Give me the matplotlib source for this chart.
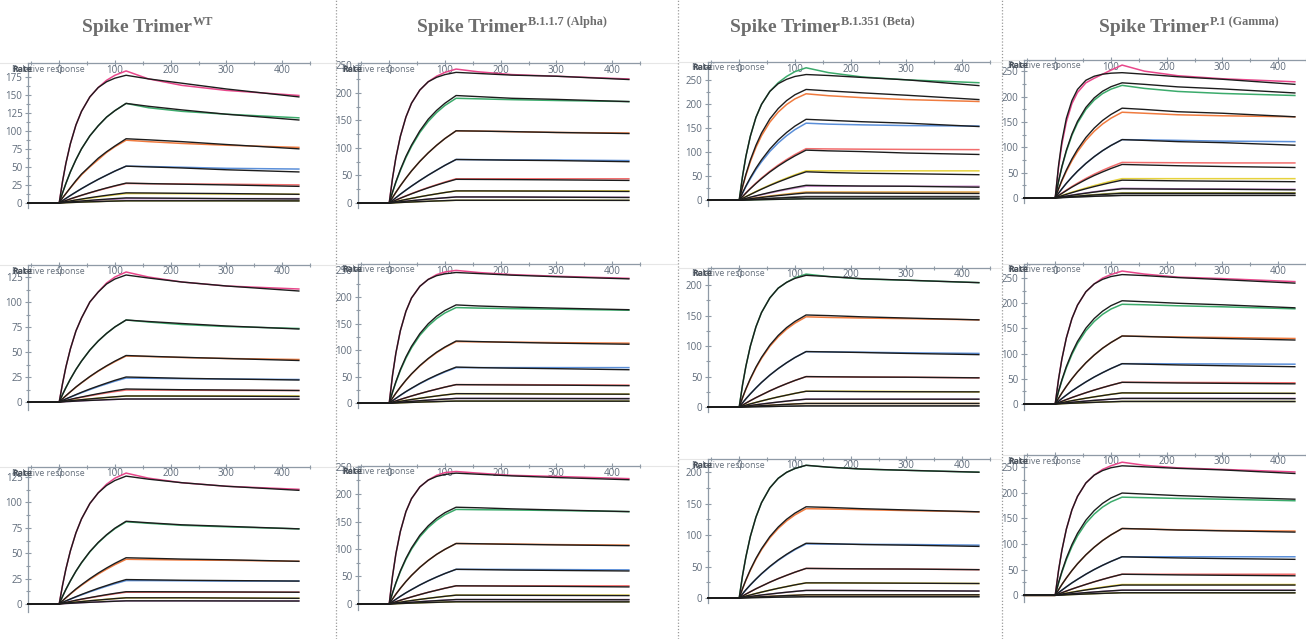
import matplotlib
matplotlib.use("Agg")
import matplotlib.pyplot as plt
from matplotlib.lines import Line2D
from matplotlib.ticker import MultipleLocator

# sample times (s) of every sensorgram: baseline, association (0-120), dissociation
t_pts = [-56, 0, 6, 12, 20, 30, 40, 55, 70, 85, 100, 120, 160, 220, 300, 430]

variants = ["WT", "B.1.1.7 (Alpha)", "B.1.351 (Beta)", "P.1 (Gamma)"]

# ---- WT ----
wt_r1_meas = [
    [0, 0, 30, 55, 82, 108, 127, 147, 160, 170, 177, 183, 172, 163, 156, 149],
    [0, 0, 14, 27, 43, 60, 75, 93, 107, 119, 128, 138, 132, 127, 123, 118],
    [0, 0, 7, 13, 21, 30, 39, 50, 60, 70, 78, 87, 85, 82.5, 80, 77],
    [0, 0, 3.2, 6.3, 10.3, 15.1, 19.8, 26.4, 32.7, 38.5, 44.2, 51, 50.5, 49.5, 48, 47],
    [0, 0, 1.7, 3.3, 5.5, 8, 10.5, 14, 17.3, 20.4, 23.4, 27, 26.7, 26.3, 26, 25],
    [0, 0, 0.8, 1.6, 2.6, 3.9, 5, 6.7, 8.3, 9.8, 11.3, 13, 13, 12.8, 12.5, 12],
    [0, 0, 0.4, 0.7, 1.2, 1.8, 2.3, 3.1, 3.8, 4.5, 5.2, 6, 6, 6, 6, 6],
    [0, 0, 0.2, 0.4, 0.6, 0.9, 1.2, 1.6, 1.9, 2.3, 2.6, 3, 3, 3, 3, 3],
]
wt_r1_fit = [
    [0, 0, 30, 55, 82, 108, 127, 147, 160, 168, 173, 177, 172, 166, 158, 147],
    [0, 0, 14, 27, 43, 60, 75, 93, 107, 119, 128, 138, 134, 129, 123, 115],
    [0, 0, 7, 13, 21, 31, 40, 51, 62, 71, 79, 89, 87.5, 85, 81, 75],
    [0, 0, 3.2, 6.3, 10.3, 15.1, 19.8, 26.4, 32.7, 38.5, 44.2, 51, 50, 48.5, 46, 43],
    [0, 0, 1.7, 3.4, 5.6, 8.2, 10.7, 14.2, 17.6, 20.8, 23.8, 27.5, 26.8, 26, 25, 23],
    [0, 0, 0.9, 1.7, 2.8, 4.2, 5.4, 7.3, 9, 10.6, 12.1, 14, 13.8, 13.4, 13, 12],
    [0, 0, 0.4, 0.9, 1.4, 2.1, 2.7, 3.6, 4.5, 5.3, 6.1, 7, 6.8, 6.5, 6, 5.5],
    [0, 0, 0.2, 0.4, 0.6, 0.9, 1.2, 1.6, 1.9, 2.3, 2.6, 3, 3, 3, 3, 2.8],
]
wt_r2_meas = [
    [0, 0, 18.5, 35, 53, 71, 84, 100, 110, 119, 125, 130, 125, 120, 116, 113],
    [0, 0, 7.5, 14.4, 22.9, 32.5, 40.9, 51.9, 61, 68.6, 75.1, 82, 80, 77.5, 75.5, 73.5],
    [0, 0, 3.2, 6.2, 10.1, 14.8, 19.1, 25.2, 30.8, 35.8, 40.4, 46, 45.5, 44.5, 43.5, 42.5],
    [0, 0, 1.5, 3, 4.8, 7.1, 9.3, 12.4, 15.4, 18.1, 20.8, 24, 23.7, 23.3, 23, 22.5],
    [0, 0, 0.7, 1.5, 2.4, 3.6, 4.7, 6.2, 7.7, 9.1, 10.4, 12, 12, 11.8, 11.6, 11.5],
    [0, 0, 0.4, 0.7, 1.2, 1.8, 2.3, 3.1, 3.8, 4.5, 5.2, 6, 6, 6, 6, 6],
    [0, 0, 0.2, 0.4, 0.6, 0.9, 1.2, 1.6, 1.9, 2.3, 2.6, 3, 3, 3, 3, 3],
]
wt_r2_fit = [
    [0, 0, 18.5, 35, 53, 71, 84, 100, 110, 118, 123, 127, 124, 120, 116, 111],
    [0, 0, 7.5, 14.4, 22.9, 32.5, 40.9, 51.9, 61, 68.6, 75.1, 82, 80.5, 78.5, 76, 73],
    [0, 0, 3.2, 6.3, 10.2, 15, 19.3, 25.5, 31.1, 36.2, 40.9, 46.5, 45.7, 44.7, 43.5, 41.5],
    [0, 0, 1.6, 3.1, 5, 7.4, 9.7, 13, 16, 18.9, 21.7, 25, 24.5, 23.7, 23, 22],
    [0, 0, 0.8, 1.6, 2.6, 3.9, 5, 6.7, 8.3, 9.8, 11.3, 13, 12.7, 12.3, 12, 11.5],
    [0, 0, 0.4, 0.7, 1.2, 1.8, 2.3, 3.1, 3.8, 4.5, 5.2, 6, 6, 5.9, 5.8, 5.5],
    [0, 0, 0.2, 0.4, 0.6, 0.9, 1.2, 1.6, 1.9, 2.3, 2.6, 3, 3, 3, 2.9, 2.8],
]
wt_r3_meas = [
    [0, 0, 18.4, 34.4, 52.2, 70, 83.8, 99, 109.5, 118, 124, 129, 124, 119.5, 116, 113],
    [0, 0, 7.4, 14.3, 22.6, 32.1, 40.4, 51.3, 60.3, 67.8, 74.2, 81, 79.5, 77.5, 76, 74],
    [0, 0, 3, 5.9, 9.7, 14.2, 18.3, 24.1, 29.4, 34.2, 38.7, 44, 43.7, 43.3, 43, 42],
    [0, 0, 1.4, 2.8, 4.6, 6.8, 8.9, 11.9, 14.7, 17.4, 19.9, 23, 23, 22.8, 22.5, 22.5],
    [0, 0, 0.7, 1.4, 2.3, 3.4, 4.5, 6, 7.4, 8.7, 10, 11.5, 11.5, 11.5, 11.5, 11.5],
    [0, 0, 0.4, 0.7, 1.2, 1.8, 2.3, 3.1, 3.8, 4.5, 5.2, 6, 6, 6, 5.8, 5.5],
    [0, 0, 0.2, 0.4, 0.6, 0.9, 1.2, 1.6, 1.9, 2.3, 2.6, 3, 3, 3, 3, 3],
]
wt_r3_fit = [
    [0, 0, 18.4, 34.4, 52.2, 70, 83.8, 99, 109.5, 116.8, 121.7, 126, 123, 119.5, 116, 112],
    [0, 0, 7.4, 14.3, 22.7, 32.3, 40.7, 51.6, 60.6, 68.2, 74.7, 81.5, 80, 78, 76.5, 74],
    [0, 0, 3.1, 6.1, 10, 14.7, 18.9, 24.9, 30.4, 35.4, 40, 45.5, 45, 44.2, 43.5, 42],
    [0, 0, 1.5, 3, 4.8, 7.1, 9.3, 12.4, 15.4, 18.1, 20.8, 24, 23.7, 23.3, 23, 22.5],
    [0, 0, 0.7, 1.5, 2.4, 3.6, 4.7, 6.2, 7.7, 9.1, 10.4, 12, 12, 11.9, 11.8, 11.5],
    [0, 0, 0.4, 0.7, 1.2, 1.8, 2.3, 3.1, 3.8, 4.5, 5.2, 6, 6, 6, 5.8, 5.5],
    [0, 0, 0.2, 0.4, 0.6, 0.9, 1.2, 1.6, 1.9, 2.3, 2.6, 3, 3, 3, 2.9, 2.8],
]

# ---- Alpha ----
al_r1_meas = [
    [0, 0, 45.5, 82.5, 121, 156, 181, 205, 220, 230, 237, 243, 238, 233, 230, 225],
    [0, 0, 19.6, 37.6, 58.9, 82.5, 102.6, 128, 148, 164, 177, 190, 189, 187.5, 186, 184],
    [0, 0, 10, 19.5, 31.4, 45.2, 58.2, 75.6, 91, 104.7, 117, 131, 130.5, 129.5, 128, 127],
    [0, 0, 4.9, 9.7, 16, 23.5, 30.7, 40.9, 50.6, 59.6, 68.4, 79, 78.7, 78.3, 78, 77],
    [0, 0, 2.7, 5.4, 8.9, 13.1, 17.1, 22.8, 28.2, 33.2, 38.1, 44, 44, 44, 44, 44],
    [0, 0, 1.4, 2.7, 4.4, 6.5, 8.5, 11.4, 14.1, 16.6, 19.1, 22, 22, 22, 22, 22],
    [0, 0, 0.7, 1.4, 2.2, 3.3, 4.3, 5.7, 7.1, 8.3, 9.5, 11, 11, 11, 10.5, 10.5],
    [0, 0, 0.3, 0.6, 1, 1.5, 1.9, 2.6, 3.2, 3.8, 4.3, 5, 5, 5, 5, 5],
]
al_r1_fit = [
    [0, 0, 45.5, 82.5, 121, 156, 181, 205, 220, 228, 233, 237, 235, 232, 230, 224],
    [0, 0, 20, 38.6, 60.5, 84.6, 105, 131, 152, 168, 181, 195, 193, 190, 188, 184],
    [0, 0, 10, 19.5, 31.4, 45.2, 58.2, 75.6, 91, 104.7, 117, 131, 130.5, 129.5, 128, 126],
    [0, 0, 4.9, 9.7, 16, 23.5, 30.7, 40.9, 50.6, 59.6, 68.4, 79, 78.5, 77.7, 77, 75],
    [0, 0, 2.7, 5.3, 8.7, 12.8, 16.7, 22.3, 27.6, 32.5, 37.2, 43, 42.8, 42.5, 42, 41],
    [0, 0, 1.4, 2.7, 4.4, 6.5, 8.5, 11.4, 14.1, 16.6, 19.1, 22, 22, 21.8, 21.6, 21],
    [0, 0, 0.7, 1.4, 2.2, 3.3, 4.3, 5.7, 7.1, 8.3, 9.5, 11, 11, 10.9, 10.6, 10],
    [0, 0, 0.3, 0.6, 1, 1.5, 1.9, 2.6, 3.2, 3.8, 4.3, 5, 5, 5, 5, 4.8],
]
al_r2_meas = [
    [0, 0, 53, 94.5, 136.5, 173, 198, 220, 233, 242, 247, 250, 246, 242, 239, 235],
    [0, 0, 20.7, 39.4, 61.6, 84.8, 104.2, 127.8, 145.4, 159.3, 169.9, 180, 179, 178, 177, 175],
    [0, 0, 9.6, 18.8, 30, 43, 54.8, 70.2, 83.5, 95.1, 104.9, 116, 115.5, 115, 114, 113],
    [0, 0, 4.6, 9, 14.7, 21.6, 27.8, 36.7, 44.8, 52.1, 58.9, 67, 67, 67, 67, 67],
    [0, 0, 2.2, 4.3, 7.1, 10.4, 13.6, 18.1, 22.4, 26.4, 30.3, 35, 35, 35, 34.5, 34],
    [0, 0, 1.1, 2.2, 3.6, 5.3, 7, 9.3, 11.5, 13.6, 15.6, 18, 18, 18, 17.5, 17],
    [0, 0, 0.6, 1.1, 1.8, 2.7, 3.5, 4.7, 5.8, 6.8, 7.8, 9, 9, 9, 9, 9],
    [0, 0, 0.25, 0.5, 0.8, 1.2, 1.6, 2.1, 2.6, 3, 3.5, 4, 4, 4, 4, 4],
]
al_r2_fit = [
    [0, 0, 53, 94.5, 136.5, 173, 198, 220, 233, 240, 243.5, 246, 244, 241, 238, 234],
    [0, 0, 21.3, 40.5, 63.3, 87.1, 107, 131, 149.5, 163.7, 174.6, 185, 183, 181, 179, 176],
    [0, 0, 9.7, 19, 30.3, 43.4, 55.2, 70.8, 84.2, 96, 105.8, 117, 116, 114.5, 113, 111],
    [0, 0, 4.7, 9.2, 15, 21.9, 28.2, 37.3, 45.5, 52.9, 59.8, 68, 67, 66, 65, 63],
    [0, 0, 2.2, 4.3, 7.1, 10.4, 13.6, 18.1, 22.4, 26.4, 30.3, 35, 34.7, 34.3, 34, 33],
    [0, 0, 1.1, 2.2, 3.6, 5.3, 7, 9.3, 11.5, 13.6, 15.6, 18, 17.8, 17.5, 17.2, 17],
    [0, 0, 0.6, 1.1, 1.8, 2.7, 3.5, 4.7, 5.8, 6.8, 7.8, 9, 9, 8.9, 8.7, 8.4],
    [0, 0, 0.25, 0.5, 0.8, 1.2, 1.6, 2.1, 2.6, 3, 3.5, 4, 4, 4, 3.9, 3.8],
]
al_r3_meas = [
    [0, 0, 51, 91.4, 132, 168, 191.6, 213, 225.4, 234, 239, 241, 238, 234, 232, 228],
    [0, 0, 19.8, 37.7, 58.8, 81, 99.6, 122.1, 139, 152.2, 162.4, 172, 171.5, 171, 170, 168],
    [0, 0, 9.1, 17.8, 28.5, 40.8, 51.9, 66.6, 79.2, 90.2, 99.4, 110, 109.5, 109, 108, 107],
    [0, 0, 4.3, 8.5, 13.9, 20.3, 26.1, 34.5, 42.1, 49, 55.4, 63, 63, 62.8, 62.5, 62],
    [0, 0, 2, 4.1, 6.7, 9.8, 12.8, 17.1, 21.2, 24.9, 28.6, 33, 33, 33, 33, 33],
    [0, 0, 1, 2, 3.2, 4.8, 6.2, 8.3, 10.3, 12.1, 13.9, 16, 16, 16, 16, 16],
    [0, 0, 0.5, 1, 1.6, 2.4, 3.1, 4.1, 5.1, 6, 6.9, 8, 8, 8, 8, 8],
    [0, 0, 0.25, 0.5, 0.8, 1.2, 1.6, 2.1, 2.6, 3, 3.5, 4, 4, 4, 4, 4],
]
al_r3_fit = [
    [0, 0, 51, 91.4, 132, 168, 191.6, 213, 225.4, 232, 235.6, 238, 236, 233, 230, 226],
    [0, 0, 20.2, 38.5, 60.2, 82.9, 101.9, 125, 142.2, 155.8, 166.1, 176, 175, 173, 171, 168],
    [0, 0, 9.1, 17.8, 28.5, 40.8, 51.9, 66.6, 79.2, 90.2, 99.4, 110, 109.5, 108.5, 107.5, 106],
    [0, 0, 4.3, 8.5, 13.9, 20.3, 26.1, 34.5, 42.1, 49, 55.4, 63, 62.5, 61.7, 61, 60],
    [0, 0, 2, 4.1, 6.7, 9.8, 12.8, 17.1, 21.2, 24.9, 28.6, 33, 32.8, 32.4, 32, 31],
    [0, 0, 1, 2, 3.2, 4.8, 6.2, 8.3, 10.3, 12.1, 13.9, 16, 15.9, 15.7, 15.5, 15.2],
    [0, 0, 0.5, 1, 1.6, 2.4, 3.1, 4.1, 5.1, 6, 6.9, 8, 8, 7.9, 7.8, 7.6],
    [0, 0, 0.25, 0.5, 0.8, 1.2, 1.6, 2.1, 2.6, 3, 3.5, 4, 4, 4, 3.9, 3.8],
]

# ---- Beta ----
be_r1_meas = [
    [0, 0, 50, 91, 133, 172, 199, 226, 244, 257, 267, 275, 265, 256, 250, 244],
    [0, 0, 27.4, 51.7, 80.2, 109.6, 133.9, 162.2, 183, 198.7, 210.4, 221, 217, 213, 209, 205],
    [0, 0, 14.6, 28.2, 44.6, 63.4, 79.8, 101.3, 119, 133.9, 146.6, 160, 158, 156.5, 155, 154],
    [0, 0, 7.7, 15.2, 24.6, 35.6, 46, 60.2, 73, 84.4, 94.8, 107, 106.5, 106, 105.5, 105],
    [0, 0, 3.8, 7.5, 12.3, 18.1, 23.7, 31.6, 39.1, 46.1, 52.8, 61, 61, 61, 61, 61],
    [0, 0, 1.8, 3.6, 5.9, 8.6, 11.3, 15, 18.6, 21.9, 25.1, 29, 29, 29, 29, 29],
    [0, 0, 1.1, 2.1, 3.4, 5, 6.6, 8.8, 10.9, 12.8, 14.7, 17, 17, 17, 17, 17],
    [0, 0, 0.5, 1, 1.6, 2.4, 3.1, 4.1, 5.1, 6, 6.9, 8, 8, 8, 8, 8],
    [0, 0, 0.2, 0.4, 0.6, 0.9, 1.2, 1.6, 1.9, 2.3, 2.6, 3, 3, 3, 3, 3],
]
be_r1_fit = [
    [0, 0, 50, 91, 133, 172, 199, 226, 242, 251, 257, 261, 259, 255, 250, 238],
    [0, 0, 28.5, 53.8, 83.5, 114, 139.4, 168.8, 190.4, 206.8, 219, 230, 227, 223, 218, 209],
    [0, 0, 15.3, 29.6, 46.9, 66.5, 83.8, 106.3, 125, 140.6, 153.9, 168, 166, 163, 160, 153],
    [0, 0, 7.5, 14.8, 23.9, 34.6, 44.7, 58.6, 70.9, 82, 92.1, 104, 102.5, 101, 98, 95],
    [0, 0, 3.7, 7.3, 11.9, 17.5, 22.9, 30.6, 37.8, 44.5, 51.1, 59, 57.5, 56, 55, 53],
    [0, 0, 1.9, 3.8, 6.3, 9.2, 12, 16.1, 19.9, 23.4, 26.8, 31, 30.3, 29.5, 29, 27],
    [0, 0, 0.9, 1.8, 3, 4.5, 5.8, 7.8, 9.6, 11.3, 13, 15, 15, 14.7, 14.4, 14],
    [0, 0, 0.4, 0.9, 1.4, 2.1, 2.7, 3.6, 4.5, 5.3, 6.1, 7, 7, 7, 6.9, 6.8],
    [0, 0, 0.2, 0.4, 0.6, 0.9, 1.2, 1.6, 1.9, 2.3, 2.6, 3, 3, 3, 3, 2.9],
]
be_r2_meas = [
    [0, 0, 36.7, 67, 100, 131.5, 155, 179, 195, 204.5, 212, 218, 214, 210, 208, 204],
    [0, 0, 15.2, 29.3, 45.9, 64.2, 79.9, 99.6, 115.1, 127.7, 137.6, 148, 147, 146, 145, 143],
    [0, 0, 6.9, 13.6, 21.8, 31.4, 40.4, 52.5, 63.2, 72.7, 81.3, 91, 90.5, 90, 89, 88],
    [0, 0, 3.3, 6.5, 10.6, 15.5, 20, 26.7, 32.8, 38.4, 43.7, 50, 49.7, 49.3, 49, 48],
    [0, 0, 1.6, 3.2, 5.3, 7.7, 10.1, 13.5, 16.7, 19.6, 22.5, 26, 26, 26, 25.5, 25],
    [0, 0, 0.8, 1.6, 2.6, 3.9, 5, 6.7, 8.3, 9.8, 11.3, 13, 13, 13, 13, 13],
    [0, 0, 0.4, 0.7, 1.2, 1.8, 2.3, 3.1, 3.8, 4.5, 5.2, 6, 6, 6, 6, 6],
    [0, 0, 0.1, 0.25, 0.4, 0.6, 0.8, 1, 1.3, 1.5, 1.7, 2, 2, 2, 2, 2],
]
be_r2_fit = [
    [0, 0, 36.7, 67, 100, 131.5, 155, 179, 195, 204.5, 211, 216, 214, 210.5, 208, 204],
    [0, 0, 15.6, 29.9, 46.8, 65.5, 81.5, 101.6, 117.5, 130.3, 140.4, 151, 150, 148, 146, 143],
    [0, 0, 6.9, 13.6, 21.8, 31.4, 40.4, 52.5, 63.2, 72.7, 81.3, 91, 90.5, 89.5, 88, 86],
    [0, 0, 3.3, 6.5, 10.6, 15.5, 20, 26.7, 32.8, 38.4, 43.7, 50, 49.7, 49.3, 49, 48],
    [0, 0, 1.6, 3.2, 5.3, 7.7, 10.1, 13.5, 16.7, 19.6, 22.5, 26, 25.8, 25.4, 25.2, 25],
    [0, 0, 0.8, 1.6, 2.6, 3.9, 5, 6.7, 8.3, 9.8, 11.3, 13, 13, 13, 13, 13],
    [0, 0, 0.4, 0.7, 1.2, 1.8, 2.3, 3.1, 3.8, 4.5, 5.2, 6, 6, 6, 6, 6],
    [0, 0, 0.1, 0.25, 0.4, 0.6, 0.8, 1, 1.3, 1.5, 1.7, 2, 2, 2, 2, 2],
]
be_r3_meas = [
    [0, 0, 35.9, 65.4, 97.9, 128.5, 151.5, 175.1, 190.3, 199.8, 205.9, 211, 208, 205, 203, 200],
    [0, 0, 14.6, 28.1, 44, 61.6, 76.7, 95.6, 110.5, 122.5, 132.1, 142, 141.5, 140.5, 139, 137],
    [0, 0, 6.5, 12.8, 20.6, 29.7, 38.2, 49.6, 59.8, 68.7, 76.8, 86, 85.7, 85.3, 85, 84],
    [0, 0, 3.1, 6.1, 9.9, 14.6, 18.8, 25.1, 30.8, 36, 41, 47, 46.7, 46.3, 46, 45],
    [0, 0, 1.5, 3, 4.8, 7.1, 9.3, 12.4, 15.4, 18.1, 20.8, 24, 24, 23.8, 23.5, 23],
    [0, 0, 0.7, 1.5, 2.4, 3.6, 4.7, 6.2, 7.7, 9.1, 10.4, 12, 12, 11.8, 11.5, 11],
    [0, 0, 0.3, 0.6, 1, 1.5, 1.9, 2.6, 3.2, 3.8, 4.3, 5, 5, 5, 5, 5],
    [0, 0, 0.1, 0.25, 0.4, 0.6, 0.8, 1, 1.3, 1.5, 1.7, 2, 2, 2, 2, 2],
]
be_r3_fit = [
    [0, 0, 35.9, 65.4, 97.9, 128.5, 151.5, 175.1, 190.3, 199.8, 205.9, 211, 208, 205, 203, 200],
    [0, 0, 14.9, 28.7, 45, 62.9, 78.3, 97.6, 112.8, 125.1, 134.9, 145, 144, 142, 140, 137],
    [0, 0, 6.6, 13, 20.9, 30, 38.6, 50.2, 60.5, 69.5, 77.7, 87, 86.3, 85, 84, 82],
    [0, 0, 3.1, 6.1, 9.9, 14.6, 18.8, 25.1, 30.8, 36, 41, 47, 46.7, 46.3, 46, 45],
    [0, 0, 1.5, 3, 4.8, 7.1, 9.3, 12.4, 15.4, 18.1, 20.8, 24, 24, 23.8, 23.5, 23],
    [0, 0, 0.7, 1.5, 2.4, 3.6, 4.7, 6.2, 7.7, 9.1, 10.4, 12, 12, 11.8, 11.5, 11],
    [0, 0, 0.3, 0.6, 1, 1.5, 1.9, 2.6, 3.2, 3.8, 4.3, 5, 5, 5, 5, 5],
    [0, 0, 0.1, 0.25, 0.4, 0.6, 0.8, 1, 1.3, 1.5, 1.7, 2, 2, 2, 2, 2],
]

# ---- Gamma ----
ga_r1_meas = [
    [0, 0, 60, 106, 150, 186, 208, 227, 236, 244, 252, 262, 250, 241, 235, 229],
    [0, 0, 32.4, 60.6, 91.9, 123.4, 147.6, 174.5, 192.9, 205.8, 214.5, 222, 216, 210, 206, 202],
    [0, 0, 17.4, 33.5, 52.4, 73.3, 91.3, 113.7, 131.5, 145.8, 157.2, 169, 167, 164, 162, 160],
    [0, 0, 9.2, 17.9, 28.8, 41.2, 52.7, 68, 81.4, 93.2, 103.4, 115, 114.5, 113.5, 112, 111],
    [0, 0, 4.8, 9.5, 15.4, 22.5, 29.1, 38.4, 46.8, 54.5, 61.5, 70, 69.7, 69.4, 69, 69],
    [0, 0, 2.4, 4.7, 7.7, 11.3, 14.7, 19.7, 24.4, 28.7, 32.9, 38, 38, 38, 38, 38],
    [0, 0, 1.2, 2.3, 3.8, 5.6, 7.4, 9.8, 12.2, 14.3, 16.5, 19, 18.5, 18, 17.5, 17],
    [0, 0, 0.6, 1.2, 2, 3, 3.9, 5.2, 6.4, 7.6, 8.7, 10, 10, 10, 10, 10],
    [0, 0, 0.3, 0.6, 1, 1.5, 1.9, 2.6, 3.2, 3.8, 4.3, 5, 5, 5, 5, 5],
]
ga_r1_fit = [
    [0, 0, 64, 112, 157, 192, 214, 232, 240, 244, 246, 247, 244, 239, 234, 224],
    [0, 0, 33, 62, 94, 126, 151, 178.4, 197.3, 210.4, 219.3, 227, 224, 219, 215, 207],
    [0, 0, 18.2, 35, 54.9, 76.8, 95.6, 119.1, 137.7, 152.8, 164.6, 177, 174.5, 170, 167, 160],
    [0, 0, 9.2, 17.9, 28.8, 41.2, 52.7, 68, 81.4, 93.2, 103.4, 115, 113.5, 111, 109, 104],
    [0, 0, 4.6, 8.9, 14.5, 21.3, 27.4, 36.2, 44.2, 51.3, 58, 66, 65, 63.5, 62, 60],
    [0, 0, 2.2, 4.3, 7.1, 10.4, 13.6, 18.1, 22.4, 26.4, 30.3, 35, 34.5, 33.7, 33, 32],
    [0, 0, 1.1, 2.2, 3.6, 5.3, 7, 9.3, 11.5, 13.6, 15.6, 18, 17.7, 17.3, 17, 16],
    [0, 0, 0.6, 1.1, 1.8, 2.7, 3.5, 4.7, 5.8, 6.8, 7.8, 9, 9, 9, 9, 9],
    [0, 0, 0.3, 0.6, 1, 1.5, 1.9, 2.6, 3.2, 3.8, 4.3, 5, 5, 5, 5, 5],
]
ga_r2_meas = [
    [0, 0, 49.3, 89.4, 131.3, 169.6, 196.3, 222.8, 238.5, 250, 257, 264, 258, 252, 249, 243],
    [0, 0, 24.6, 46.3, 71.9, 98.2, 120, 145.3, 163.9, 178, 188.5, 198, 197, 195, 193, 189],
    [0, 0, 11.2, 21.9, 35, 50.1, 63.7, 81.7, 97.2, 110.7, 122, 135, 134, 133, 132, 130],
    [0, 0, 5.5, 10.8, 17.6, 25.8, 33.2, 43.8, 53.5, 62.2, 70.3, 80, 80, 79.7, 79.5, 79],
    [0, 0, 2.7, 5.3, 8.7, 12.8, 16.7, 22.3, 27.6, 32.5, 37.2, 43, 43, 42.7, 42.5, 42],
    [0, 0, 1.4, 2.7, 4.4, 6.5, 8.5, 11.4, 14.1, 16.6, 19.1, 22, 22, 22, 21.5, 21],
    [0, 0, 0.7, 1.4, 2.2, 3.3, 4.3, 5.7, 7.1, 8.3, 9.5, 11, 11, 11, 11, 11],
    [0, 0, 0.3, 0.6, 1, 1.5, 1.9, 2.6, 3.2, 3.8, 4.3, 5, 5, 5, 5, 5],
]
ga_r2_fit = [
    [0, 0, 49.3, 89.4, 131.3, 169.6, 196.3, 222.8, 238.5, 247.5, 253.1, 257, 255, 251, 247, 240],
    [0, 0, 25.4, 48, 74.4, 101.7, 124.2, 150.5, 169.7, 184.3, 195.2, 205, 203, 200, 197, 191],
    [0, 0, 11.2, 21.9, 35, 50.1, 63.7, 81.7, 97.2, 110.7, 122, 135, 134, 132, 130, 127],
    [0, 0, 5.5, 10.8, 17.6, 25.8, 33.2, 43.8, 53.5, 62.2, 70.3, 80, 79, 77.5, 76, 74],
    [0, 0, 2.7, 5.3, 8.7, 12.8, 16.7, 22.3, 27.6, 32.5, 37.2, 43, 42.5, 41.7, 41, 40],
    [0, 0, 1.4, 2.7, 4.4, 6.5, 8.5, 11.4, 14.1, 16.6, 19.1, 22, 21.8, 21.4, 21.2, 21],
    [0, 0, 0.7, 1.4, 2.2, 3.3, 4.3, 5.7, 7.1, 8.3, 9.5, 11, 11, 10.9, 10.7, 10.4],
    [0, 0, 0.3, 0.6, 1, 1.5, 1.9, 2.6, 3.2, 3.8, 4.3, 5, 5, 5, 4.9, 4.8],
]
ga_r3_meas = [
    [0, 0, 48.4, 87.7, 128.8, 166.3, 192.5, 218.5, 233.9, 245, 252, 259, 253, 248, 245, 240],
    [0, 0, 23.7, 44.7, 69.3, 94.7, 115.7, 140.2, 158.1, 171.7, 181.8, 191, 190, 188.5, 187, 184],
    [0, 0, 10.8, 21.1, 33.7, 48.2, 61.4, 78.7, 93.6, 106.6, 117.5, 130, 129, 127.5, 126, 125],
    [0, 0, 5.2, 10.1, 16.5, 24.2, 31.1, 41.1, 50.2, 58.4, 65.9, 75, 75, 75, 75, 75],
    [0, 0, 2.5, 5, 8.3, 12.2, 15.9, 21.2, 26.3, 31, 35.5, 41, 41, 41, 41, 41],
    [0, 0, 1.3, 2.6, 4.2, 6.2, 8.1, 10.9, 13.5, 15.9, 18.2, 21, 21, 21, 21, 21],
    [0, 0, 0.6, 1.2, 2, 3, 3.9, 5.2, 6.4, 7.6, 8.7, 10, 10, 10, 10, 10],
    [0, 0, 0.3, 0.6, 1, 1.5, 1.9, 2.6, 3.2, 3.8, 4.3, 5, 5, 5, 5, 5],
]
ga_r3_fit = [
    [0, 0, 48.4, 87.7, 128.8, 166.3, 192.5, 218.5, 233.9, 242.7, 248.2, 252, 250, 247, 244, 237],
    [0, 0, 24.7, 46.6, 72.2, 98.7, 120.6, 146.1, 164.8, 178.9, 189.4, 199, 197, 194, 191, 187],
    [0, 0, 10.8, 21.1, 33.7, 48.2, 61.4, 78.7, 93.6, 106.6, 117.5, 130, 129, 127, 125.5, 123],
    [0, 0, 5.2, 10.1, 16.5, 24.2, 31.1, 41.1, 50.2, 58.4, 65.9, 75, 74, 72.7, 71.5, 70],
    [0, 0, 2.5, 5, 8.3, 12.2, 15.9, 21.2, 26.3, 31, 35.5, 41, 40.5, 39.7, 39, 38],
    [0, 0, 1.2, 2.5, 4, 5.9, 7.8, 10.4, 12.8, 15.1, 17.3, 20, 20, 20, 20, 20],
    [0, 0, 0.6, 1.2, 2, 3, 3.9, 5.2, 6.4, 7.6, 8.7, 10, 10, 10, 9.8, 9.6],
    [0, 0, 0.3, 0.6, 1, 1.5, 1.9, 2.6, 3.2, 3.8, 4.3, 5, 5, 5, 4.9, 4.8],
]

main_colors = ["#e8478b", "#3cab6c", "#f07b3f", "#5b8fd9", "#f26d6d",
               "#e6d23c", "#b47cc0", "#a3a33a", "#8c8c8c"]
beta_colors = ["#3cab6c", "#f07b3f", "#5b8fd9", "#f26d6d", "#e6d23c",
               "#c88cc8", "#e0a040", "#8c8c8c", "#5a8a5a"]

meas_grid = [[wt_r1_meas, al_r1_meas, be_r1_meas, ga_r1_meas],
             [wt_r2_meas, al_r2_meas, be_r2_meas, ga_r2_meas],
             [wt_r3_meas, al_r3_meas, be_r3_meas, ga_r3_meas]]
fit_grid = [[wt_r1_fit, al_r1_fit, be_r1_fit, ga_r1_fit],
            [wt_r2_fit, al_r2_fit, be_r2_fit, ga_r2_fit],
            [wt_r3_fit, al_r3_fit, be_r3_fit, ga_r3_fit]]
col_colors = [main_colors, main_colors, beta_colors, main_colors]

# layout (pixels)
W, H = 1306, 639
col_left = [28, 358, 708, 1024]
panel_w = 282
panel_top = [[63, 63, 62, 60], [265, 264, 268, 264], [467, 466, 459, 455]]
panel_bot = [[208, 208, 206, 203], [410, 408, 412, 410], [612, 610, 603, 602]]
ylims = [[(-7, 194), (-9, 254), (-12, 287), (-10, 272)],
         [(-8, 137), (-9, 262), (-8, 228), (-12, 278)],
         [(-8, 135), (-11, 251), (-8, 221), (-13, 273)]]
ystep = [25, 50, 50, 50]
col_span = [(0, 335), (337, 677), (679, 1001), (1003, 1306)]
title_left = [82, 417, 730, 1099]
sep_x = [336, 678, 1002]

axis_col = "#8f9aa6"
tick_col = "#5f6b7a"

fig = plt.figure(figsize=(W / 100, H / 100), dpi=100)
fig.patch.set_facecolor("white")


def fx(px):
    return px / W


def fy(py):
    return 1 - py / H


for r in range(3):
    for c in range(4):
        top, bot = panel_top[r][c], panel_bot[r][c]
        left = col_left[c]
        # faint panel frame line across the column
        fig.add_artist(Line2D([fx(col_span[c][0]), fx(col_span[c][1])], [fy(top), fy(top)],
                              transform=fig.transFigure, color="#e6e6e6", lw=0.8, zorder=0))
        ax = fig.add_axes([fx(left), fy(bot), panel_w / W, (bot - top) / H])
        ax.set_xlim(-56, 450)
        ax.set_ylim(*ylims[r][c])
        ax.patch.set_alpha(0)
        for s in ["bottom", "right"]:
            ax.spines[s].set_visible(False)
        for s in ["top", "left"]:
            ax.spines[s].set_color(axis_col)
            ax.spines[s].set_linewidth(0.9)
        ax.xaxis.set_ticks_position("top")
        ax.xaxis.set_major_locator(MultipleLocator(100))
        ax.xaxis.set_minor_locator(MultipleLocator(50))
        ax.yaxis.set_major_locator(MultipleLocator(ystep[c]))
        ax.yaxis.set_minor_locator(MultipleLocator(ystep[c] / 2))
        ax.tick_params(axis="x", which="both", direction="inout", length=4, width=0.8,
                       color=axis_col, labelsize=7, labelcolor=tick_col, pad=-11)
        ax.tick_params(axis="y", which="both", direction="inout", length=4, width=0.8,
                       color=axis_col, labelsize=7, labelcolor=tick_col, pad=2)
        ax.tick_params(which="minor", length=3)
        for lab in ax.get_xticklabels() + ax.get_yticklabels():
            lab.set_fontfamily("Open Sans")

        cols = col_colors[c]
        for i, ys in enumerate(meas_grid[r][c]):
            ax.plot(t_pts, ys, color=cols[i], lw=1.1, zorder=2, clip_on=False)
        for ys in fit_grid[r][c]:
            ax.plot(t_pts, ys, color="#1c1c1c", lw=1.0, zorder=3, clip_on=False)

        fig.text(fx(left - 16), fy(top + 6), "Relative response", fontsize=6.3,
                 color="#66707c", va="center", ha="left", family="Open Sans")
        fig.text(fx(left - 16), fy(top + 6), "Rate", fontsize=6.3, weight="bold",
                 color="#4a525c", va="center", ha="left", family="Open Sans")

# dotted column separators
for x in sep_x:
    fig.add_artist(Line2D([fx(x), fx(x)], [0, 1], transform=fig.transFigure,
                          color="#9a9a9a", lw=0.9, ls=(0, (1, 1.5)), zorder=0))

# column titles with superscript
renderer = fig.canvas.get_renderer()
for c in range(4):
    main = fig.text(fx(title_left[c]), fy(32), "Spike Trimer", family="Liberation Serif",
                    weight="bold", fontsize=14, color="#6e6e6e", va="baseline", ha="left")
    bb = main.get_window_extent(renderer=renderer)
    fig.text(bb.x1 / W + 0.001, fy(25), variants[c], family="Liberation Serif",
             weight="bold", fontsize=8.8, color="#6e6e6e", va="baseline", ha="left")

fig.savefig("out.png", dpi=100, facecolor="white")
